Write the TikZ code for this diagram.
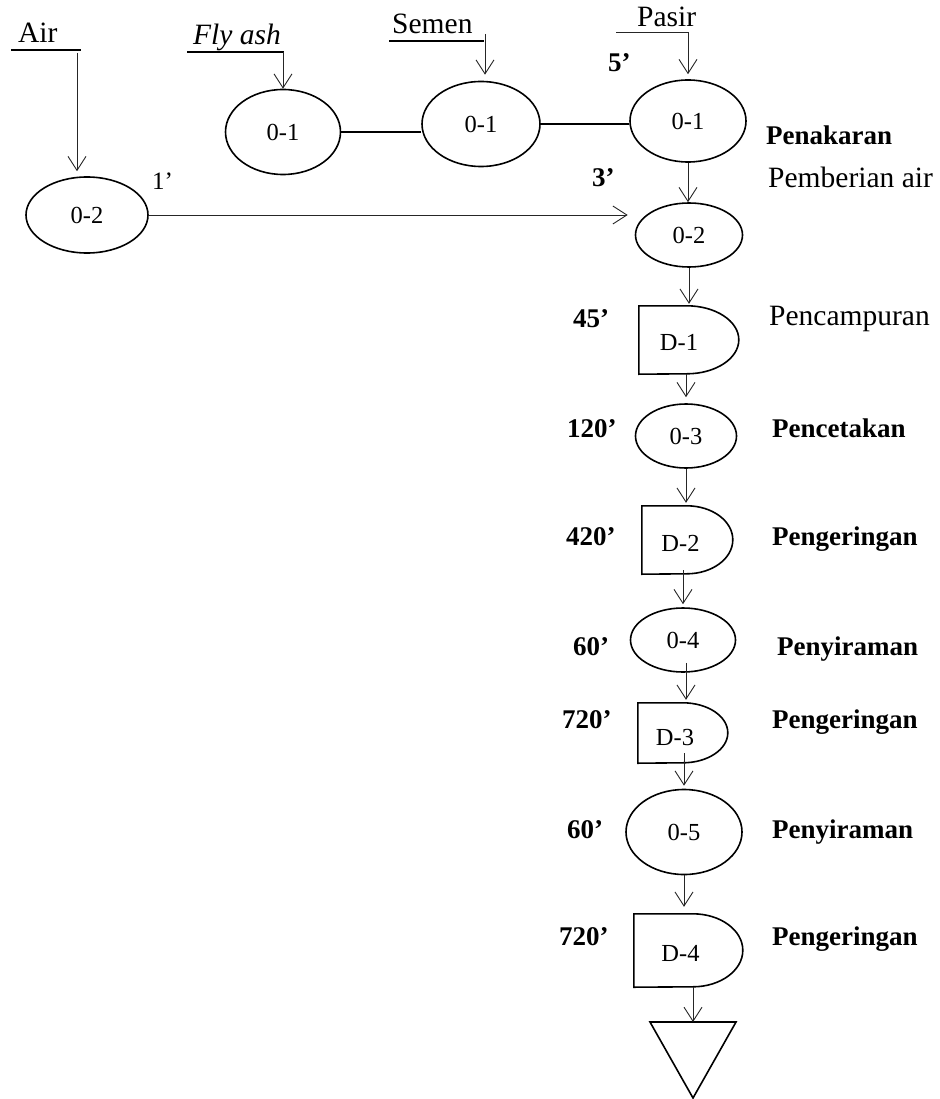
\documentclass[tikz,border=0pt]{standalone}
\usepackage{fontspec}
\setmainfont{Liberation Serif}
\usetikzlibrary{arrows.meta,shapes.geometric,calc}

\tikzset{
  lab/.style={font=\fontsize{29.5}{34}\selectfont, anchor=base west, inner sep=0pt},
  blab/.style={font=\fontsize{27}{32}\selectfont\bfseries, anchor=base west, inner sep=0pt},
  nlab/.style={font=\fontsize{24.5}{28}\selectfont},
  opnode/.style={ellipse, draw, line width=1.6pt, inner sep=0pt, nlab},
  dbox/.style={rectangle, inner sep=0pt},
  shapeline/.style={draw, line width=1.6pt},
  uline/.style={draw, line width=2pt},
  link/.style={draw, line width=2pt},
  arr/.style={draw=black!85, line width=0.9pt, -{Straight Barb[length=14pt,width=18pt]}},
}

\begin{document}
\begin{tikzpicture}[x=1pt,y=-1pt]
\useasboundingbox (0,0) rectangle (939,1099);

% ---------- raw material inputs ----------
\node[lab] (tair) at (18,43) {Air};
\node[lab] (tfly) at (193,45) {\itshape Fly ash};
\node[lab] (tsem) at (392,34) {Semen};
\node[lab] (tpas) at (637,27) {Pasir};

\coordinate (airL) at (11,50);   \coordinate (airR) at (81,50);
\coordinate (flyL) at (187,52);  \coordinate (flyR) at (284,52);
\coordinate (semL) at (389,41);  \coordinate (semR) at (484,41);
\coordinate (pasL) at (616,32);
\draw[uline] (airL) -- (airR);
\draw[uline] (flyL) -- (flyR);
\draw[uline] (semL) -- (semR);

\coordinate (airdrop) at (77,53);
\coordinate (flydrop) at (283,52);
\coordinate (semdrop) at (485,34);

% ---------- operations ----------
\node[opnode, minimum width=122pt, minimum height=76pt] (lo2) at (87,215) {0-2};
\node[opnode, minimum width=115pt, minimum height=85pt] (e1a) at (283,132) {0-1};
\node[opnode, minimum width=118pt, minimum height=85pt] (e1b) at (481,124) {0-1};
\node[opnode, minimum width=116pt, minimum height=82pt] (e1c) at (688,121) {0-1};
\node[opnode, minimum width=107pt, minimum height=64pt] (e2) at (689,235) {0-2};
\node[opnode, minimum width=101pt, minimum height=64pt] (e3) at (686,436) {0-3};
\node[opnode, minimum width=105pt, minimum height=64pt] (e4) at (683,640) {0-4};
\node[opnode, minimum width=116pt, minimum height=85pt] (e5) at (684,832) {0-5};

% ---------- delays (D shapes) ----------
\node[dbox, minimum width=100pt, minimum height=68pt,
      label={[nlab,xshift=-10pt,yshift=-2pt]center:D-1}] (d1) at (689,340) {};
\draw[shapeline] (d1.north west) -- ++(48pt,0)
  arc[start angle=90, end angle=-90, x radius=52pt, y radius=34pt] -- (d1.south west) -- cycle;

\node[dbox, minimum width=91pt, minimum height=68pt,
      label={[nlab,xshift=-7pt,yshift=-3pt]center:D-2}] (d2) at (687.5,540) {};
\draw[shapeline] (d2.north west) -- ++(45pt,0)
  arc[start angle=90, end angle=-90, x radius=46pt, y radius=34pt] -- (d2.south west) -- cycle;

\node[dbox, minimum width=90pt, minimum height=60pt,
      label={[nlab,xshift=-8pt,yshift=-4pt]center:D-3}] (d3) at (683,733) {};
\draw[shapeline] (d3.north west) -- ++(45pt,0)
  arc[start angle=90, end angle=-90, x radius=45pt, y radius=30pt] -- (d3.south west) -- cycle;

\node[dbox, minimum width=109pt, minimum height=73pt,
      label={[nlab,xshift=-8pt,yshift=-3pt]center:D-4}] (d4) at (688.5,950.5) {};
\draw[shapeline] (d4.north west) -- ++(59pt,0)
  arc[start angle=90, end angle=-90, x radius=50pt, y radius=36.5pt] -- (d4.south west) -- cycle;

% ---------- storage ----------
\coordinate (store) at (693,1022);
\draw[shapeline] (650,1022) -- (736,1022) -- (693,1098) -- cycle;

% ---------- connectors ----------
\draw[arr, shorten >=5pt] (airdrop) -- (airdrop |- lo2.north);
\draw[arr] (flydrop) -- (flydrop |- e1a.north);
\draw[arr, shorten >=6pt] (semdrop) -- (semdrop |- e1b.north);
\draw[arr, shorten >=5pt] (pasL) -| (e1c.north);

\draw[link] (e1a.east) -- (e1a.east -| e1b.west);
\draw[link] (e1b.east) -- (e1b.east -| e1c.west);

\draw[arr] (lo2.east) -- ($(lo2.east -| e2.west)+(-7pt,0)$);
\draw[arr] (e1c.south) -- (e1c.south |- e2.north);
\draw[arr, shorten >=2pt] (e2.south) -- (e2.south |- d1.north);
\draw[arr, shorten >=6pt] (e3.north |- d1.south) -- (e3.north);
\draw[arr, shorten >=3pt] (e3.south) -- (e3.south |- d2.north);
\draw[arr, shorten >=3pt] ([yshift=4pt]e4.north |- d2.south) -- (e4.north);
\draw[arr, shorten >=3pt] ([xshift=3pt,yshift=10pt]e4.south) -- ([xshift=3pt]e4.south |- d3.north);
\draw[arr, shorten >=3pt] ([yshift=10pt]e5.north |- d3.south) -- (e5.north);
\draw[arr, shorten >=7pt] (e5.south) -- (e5.south |- d4.north);
\draw[arr] (store |- d4.south) -- (store);

% ---------- times ----------
\node[lab, font=\fontsize{25}{29}\selectfont] (t1) at (152,190) {1’};
\node[blab] (t5) at (608,72) {5’};
\node[blab] (t3) at (592,187) {3’};
\node[blab] (t45) at (573,327) {45’};
\node[blab] (t120) at (567,437) {120’};
\node[blab] (t420) at (566,545) {420’};
\node[blab] (t60a) at (573,655) {60’};
\node[blab] (t720a) at (562,728) {720’};
\node[blab] (t60b) at (567,838) {60’};
\node[blab] (t720b) at (559,945) {720’};

% ---------- step names ----------
\node[blab] (s1) at (766,145) {Penakaran};
\node[lab] (s2) at (768,188) {Pemberian air};
\node[lab] (s3) at (769,325) {Pencampuran};
\node[blab] (s4) at (772,437) {Pencetakan};
\node[blab] (s5) at (772,545) {Pengeringan};
\node[blab] (s6) at (777,655) {Penyiraman};
\node[blab] (s7) at (772,728) {Pengeringan};
\node[blab] (s8) at (772,838) {Penyiraman};
\node[blab] (s9) at (772,945) {Pengeringan};
\end{tikzpicture}
\end{document}
